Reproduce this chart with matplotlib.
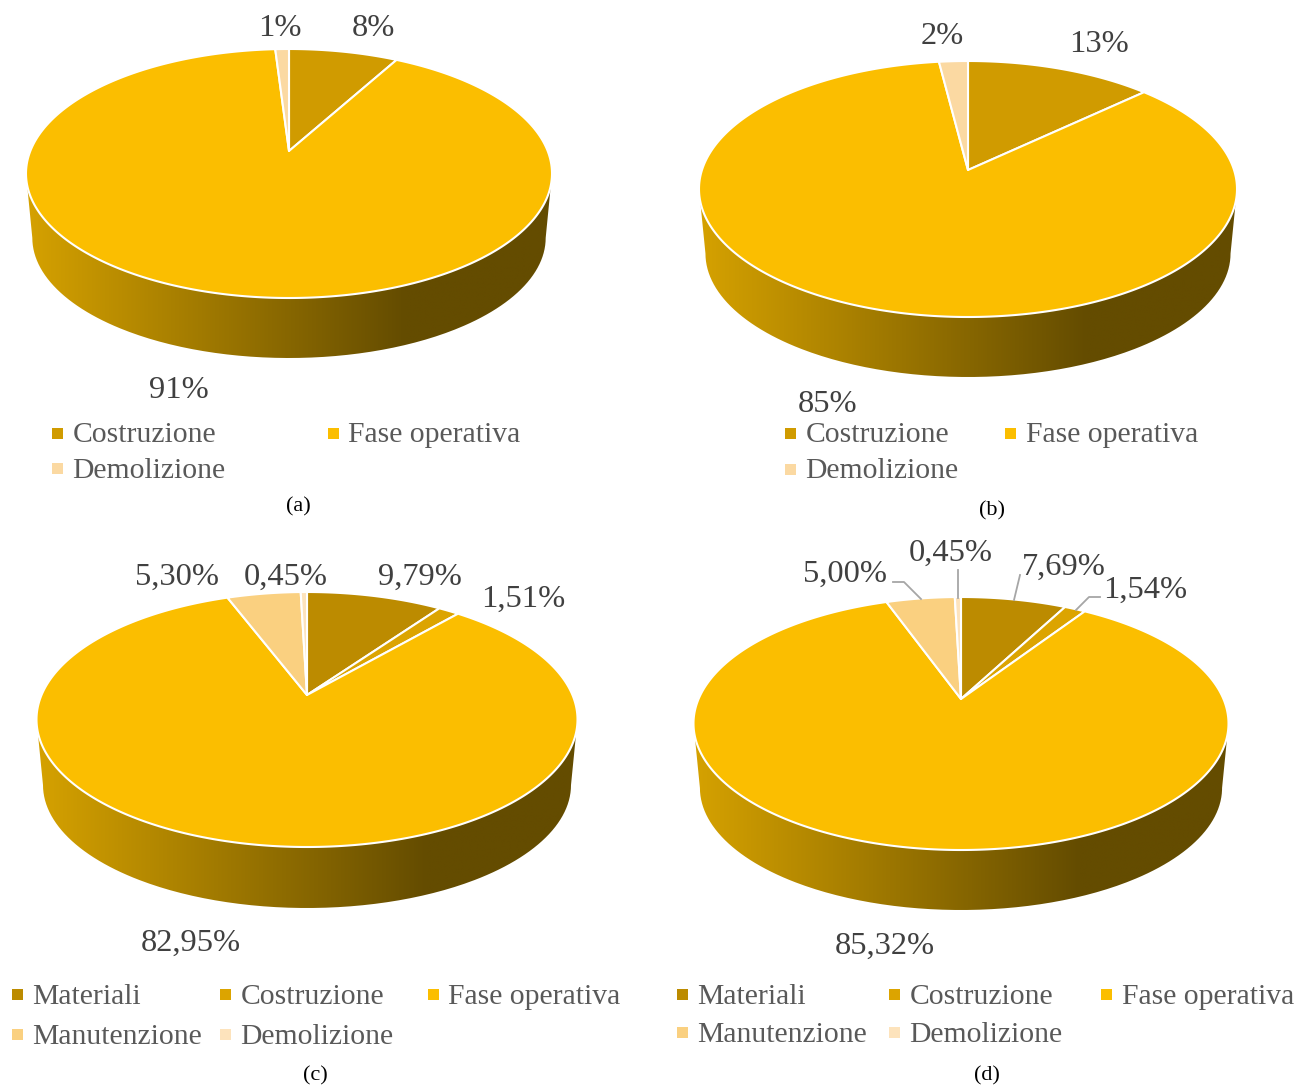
#!/usr/bin/env python3
"""Life-cycle share pies (a)-(d), drawn as tilted 3D discs."""

import matplotlib
matplotlib.use('Agg')
import matplotlib.pyplot as plt
import numpy as np
from matplotlib.colors import LinearSegmentedColormap
from matplotlib.patches import PathPatch, Polygon, Rectangle
from matplotlib.path import Path

W, H = 1311, 1087

COSTRUZIONE = '#D09B00'
FASE = '#FBBE00'
DEMOLIZIONE = '#FBD9A2'
MATERIALI = '#BC8B00'
COSTRUZIONE_2 = '#DCA400'
MANUTENZIONE = '#FAD080'
DEMOLIZIONE_2 = '#FDE3BC'

names_a = ['Costruzione', 'Fase operativa', 'Demolizione']
values_a = [8, 91, 1]
labels_a = ['8%', '91%', '1%']

names_b = ['Costruzione', 'Fase operativa', 'Demolizione']
values_b = [13, 85, 2]
labels_b = ['13%', '85%', '2%']

names_c = ['Materiali', 'Costruzione', 'Fase operativa', 'Manutenzione', 'Demolizione']
values_c = [9.79, 1.51, 82.95, 5.30, 0.45]
labels_c = ['9,79%', '1,51%', '82,95%', '5,30%', '0,45%']

names_d = ['Materiali', 'Costruzione', 'Fase operativa', 'Manutenzione', 'Demolizione']
values_d = [7.69, 1.54, 85.32, 5.00, 0.45]
labels_d = ['7,69%', '1,54%', '85,32%', '5,00%', '0,45%']

SIDE_CMAP = LinearSegmentedColormap.from_list(
    'side', [(0.0, '#D6A200'), (0.72, '#644C00'), (1.0, '#644C00')])


def disc_points(geom, theta):
    """Project circle angles (clockwise from 12 o'clock) onto the tilted disc."""
    up = geom['apex'] - geom['top']
    down = geom['bottom'] - geom['apex']
    k = (down - up) / (down + up)
    b = up * (1 + k)
    s = geom['rx'] * np.sqrt(1 - k ** 2)
    cx, cy = np.sin(theta), np.cos(theta)
    den = 1 + k * cy
    return np.column_stack([geom['cx'] + s * cx / den, geom['apex'] - b * cy / den])


def draw_side(ax, geom):
    # lower rim is a little narrower than the top face
    ry = (geom['bottom'] - geom['top']) / 2
    mid = (geom['bottom'] + geom['top']) / 2
    low_rx = geom['rx'] * 0.976
    low_ry = ry * 0.965
    low_mid = geom['bottom'] + geom['depth'] - low_ry
    t = np.linspace(np.pi, 0, 200)
    rim = np.column_stack([geom['cx'] + low_rx * np.cos(t), low_mid + low_ry * np.sin(t)])
    pts = np.vstack([[geom['cx'] - geom['rx'], mid], rim, [geom['cx'] + geom['rx'], mid]])
    clip = PathPatch(Path(np.vstack([pts, pts[:1]])), transform=ax.transData,
                     fc='none', ec='none')
    ax.add_patch(clip)
    ramp = np.linspace(0, 1, 512)[None, :]
    left, right = geom['cx'] - low_rx, geom['cx'] + low_rx
    im = ax.imshow(ramp, cmap=SIDE_CMAP, aspect='auto', interpolation='bilinear',
                   extent=(left - 8, right + 8, geom['bottom'] + geom['depth'] + 2, mid),
                   zorder=1)
    im.set_clip_path(clip)


def draw_pie(ax, geom, values, colors):
    draw_side(ax, geom)
    edges = np.cumsum([0] + list(values)) / sum(values) * 2 * np.pi
    for start, end, color in zip(edges[:-1], edges[1:], colors):
        t = np.linspace(start, end, max(3, int((end - start) * 120)))
        rim = disc_points(geom, t)
        pts = np.vstack([[geom['cx'], geom['apex']], rim])
        ax.add_patch(Polygon(pts, closed=True, fc=color, ec='white', lw=1.5,
                             joinstyle='round', zorder=2))


def draw_legend(ax, rows):
    for x, y, name, color in rows:
        ax.add_patch(Rectangle((x, y - 5.5), 11, 11, fc=color, ec='none', zorder=3))
        ax.text(x + 20.5, y + 2.5, name, fontsize=21.3, color='#595959', va='center', ha='left')


def main():
    plt.rcParams['font.family'] = ['Liberation Serif', 'DejaVu Serif']
    fig = plt.figure(figsize=(W / 100, H / 100), dpi=100)
    ax = fig.add_axes([0, 0, 1, 1])

    geom_a = dict(cx=289, apex=151, top=49, bottom=298, rx=263, depth=60)
    geom_b = dict(cx=968, apex=170, top=61, bottom=317, rx=269, depth=60)
    geom_c = dict(cx=307, apex=695, top=592, bottom=847, rx=270.5, depth=61)
    geom_d = dict(cx=961, apex=699, top=597, bottom=850, rx=267.5, depth=60)

    draw_pie(ax, geom_a, values_a, [COSTRUZIONE, FASE, DEMOLIZIONE])
    draw_pie(ax, geom_b, values_b, [COSTRUZIONE, FASE, DEMOLIZIONE])
    five = [MATERIALI, COSTRUZIONE_2, FASE, MANUTENZIONE, DEMOLIZIONE_2]
    draw_pie(ax, geom_c, values_c, five)
    draw_pie(ax, geom_d, values_d, five)

    # value labels, same order as the value lists
    spots = [
        (labels_a, [(373, 29), (179, 390), (280, 28)]),
        (labels_b, [(1099, 44), (828, 404), (942, 37)]),
        (labels_c, [(420, 577), (523, 599), (191, 943), (177, 577), (286, 577)]),
        (labels_d, [(1064, 567), (1145, 590), (885, 946), (845, 574), (951, 553)]),
    ]
    for labels, xy in spots:
        for text, (x, y) in zip(labels, xy):
            ax.text(x, y, text, fontsize=23.4, color='#404040', ha='center', va='center', zorder=4)

    # leader lines on panel (d)
    leaders = [
        [(893, 582), (904, 582), (921, 599)],
        [(958, 570), (958, 598)],
        [(1020, 575), (1014, 600)],
        [(1100, 597), (1089, 597), (1076, 610)],
    ]
    for line in leaders:
        xs, ys = zip(*line)
        ax.plot(xs, ys, color='#A6A6A6', lw=1.3, zorder=3)

    draw_legend(ax, [(52, 433, names_a[0], COSTRUZIONE), (328, 433, names_a[1], FASE),
                     (52, 468, names_a[2], DEMOLIZIONE)])
    draw_legend(ax, [(785, 433, names_b[0], COSTRUZIONE), (1005, 433, names_b[1], FASE),
                     (785, 469, names_b[2], DEMOLIZIONE)])
    draw_legend(ax, [(12, 994, names_c[0], MATERIALI), (220, 994, names_c[1], COSTRUZIONE_2),
                     (428, 994, names_c[2], FASE), (12, 1034, names_c[3], MANUTENZIONE),
                     (220, 1034, names_c[4], DEMOLIZIONE_2)])
    draw_legend(ax, [(677, 994, names_d[0], MATERIALI), (889, 994, names_d[1], COSTRUZIONE_2),
                     (1101, 994, names_d[2], FASE), (677, 1032, names_d[3], MANUTENZIONE),
                     (889, 1032, names_d[4], DEMOLIZIONE_2)])

    for text, x, y in [('(a)', 298, 507), ('(b)', 992, 511), ('(c)', 315, 1076), ('(d)', 987, 1076)]:
        ax.text(x, y, text, fontsize=16, color='black', ha='center', va='center')

    ax.set_xlim(0, W)
    ax.set_ylim(H, 0)
    ax.axis('off')
    fig.savefig('out.png', dpi=100)
    plt.close(fig)


if __name__ == '__main__':
    main()
